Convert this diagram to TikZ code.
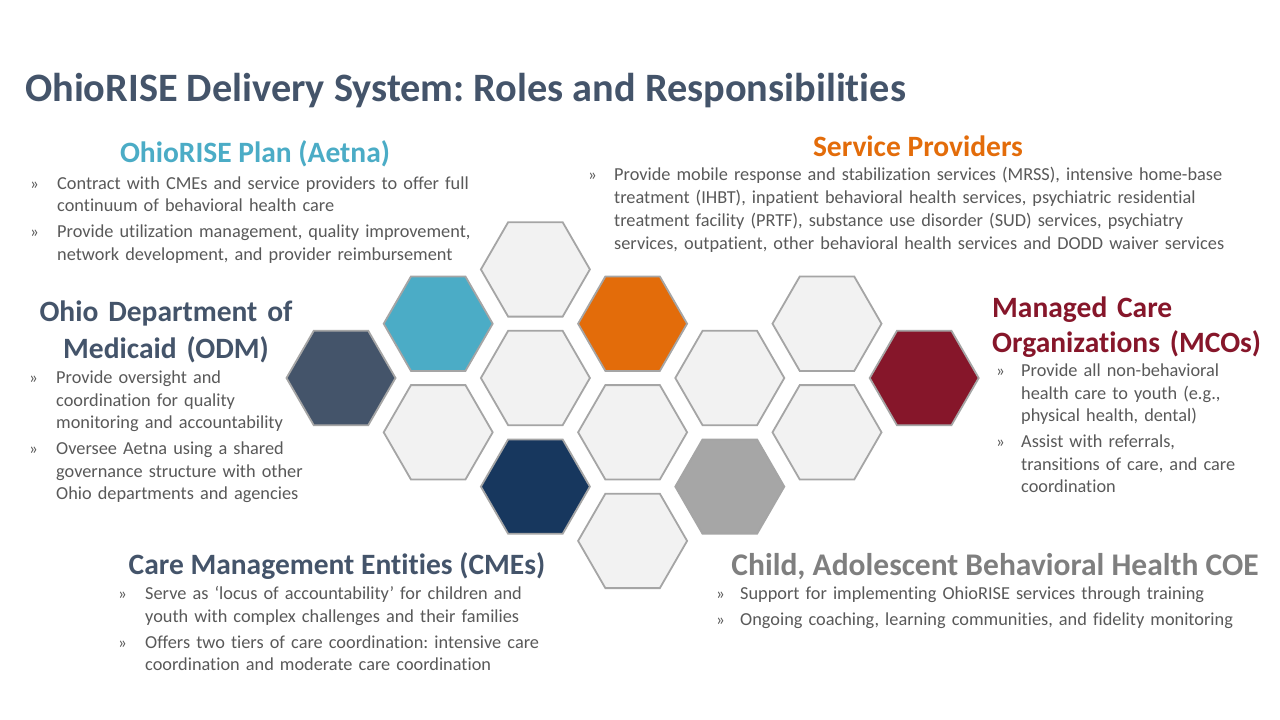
\documentclass[tikz,border=0pt]{standalone}
\usepackage{fontspec}
\setmainfont{Carlito}[Ligatures={TeX,NoCommon}]
\usetikzlibrary{shapes.geometric}
\frenchspacing
\definecolor{slate}{HTML}{44546A}
\definecolor{aetna}{HTML}{4BACC6}
\definecolor{provider}{HTML}{E36C0A}
\definecolor{mco}{HTML}{86162A}
\definecolor{cme}{HTML}{17375E}
\definecolor{coe}{HTML}{A6A6A6}
\definecolor{coetxt}{HTML}{7F7F7F}
\definecolor{cell}{HTML}{F2F2F2}
\definecolor{cellline}{HTML}{A5A5A5}
\definecolor{bodytxt}{HTML}{595959}
\newlength{\bulsep}
\setlength{\bulsep}{27pt}
\newcommand{\bul}{\noindent\hangindent=\bulsep\hangafter=1\makebox[\bulsep][l]{\fontsize{17}{17}\selectfont »}}
\newcommand{\gap}{\par\vspace{3.5pt}}
\tikzset{
  hexa/.style={regular polygon, regular polygon sides=6, minimum size=109pt, inner sep=0pt, draw=cellline, line width=1.8pt},
  head/.style={anchor=base, inner sep=0pt, font=\bfseries\fontsize{29.5}{37}\selectfont},
  body/.style={anchor=base west, inner sep=0pt, text width=#1, text=bodytxt, font=\fontsize{18.3}{22.5}\selectfont\frenchspacing}
}
\begin{document}
\begin{tikzpicture}[x=1pt,y=-1pt]
\useasboundingbox (0,0) rectangle (1280,720);
\fill[white] (0,0) rectangle (1280,720);
\foreach \c/\k/\col/\nm in {0/0/slate/odm, 1/-1/aetna/plan, 1/1/cell/h11, 2/-2/cell/h22, 2/0/cell/h20,
  2/2/cme/cmes, 3/-1/provider/prov, 3/1/cell/h31, 3/3/cell/h33, 4/0/cell/h40, 4/2/coe/coehex,
  5/-1/cell/h51, 5/1/cell/h52, 6/0/mco/mcos}
  \node[hexa, fill=\col] (\nm) at ({341+97.2*\c},{378+54.3*\k}) {};
\node[anchor=base west, inner sep=0pt, text=slate, font=\bfseries\fontsize{40.3}{46}\selectfont] (title) at (25,101) {OhioRISE Delivery System: Roles and Responsibilities};
\node[head, text=aetna] (planhead) at (255,162) {OhioRISE Plan (Aetna)};
\node[body=480pt] (plantxt) at (30,189) {\bul Contract with CMEs and service providers to offer full\newline continuum of behavioral health care\gap
  \bul Provide utilization management, quality improvement,\newline network development, and provider reimbursement\par};
\node[head, text=provider] (provhead) at (918,156.5) {Service Providers};
\node[body=680pt, font=\fontsize{18.3}{23.1}\selectfont\frenchspacing] (provtxt) at (588,180.5) {\setlength{\bulsep}{26pt}\bul Provide mobile response and stabilization services (MRSS), intensive home-base\newline treatment (IHBT), inpatient behavioral health services, psychiatric residential\newline treatment facility (PRTF), substance use disorder (SUD) services, psychiatry\newline services, outpatient, other behavioral health services and DODD waiver services\par};
\node[head, text=slate, text width=300pt, align=center] (odmhead) at (166,321.5) {Ohio Department of\\Medicaid (ODM)};
\node[body=320pt] (odmtxt) at (29,383.5) {\setlength{\bulsep}{27pt}\bul Provide oversight and\newline coordination for quality\newline monitoring and accountability\gap
  \bul Oversee Aetna using a shared\newline governance structure with other\newline Ohio departments and agencies\par};
\node[head, anchor=base west, text=mco, text width=290pt, align=left, font=\bfseries\fontsize{29.5}{35}\selectfont] (mcohead) at (992,317.5) {Managed Care\\Organizations (MCOs)};
\node[body=280pt] (mcotxt) at (996,376.5) {\setlength{\bulsep}{25pt}\bul Provide all non-behavioral\newline health care to youth (e.g.,\newline physical health, dental)\gap
  \bul Assist with referrals,\newline transitions of care, and care\newline coordination\par};
\node[head, text=slate] (cmehead) at (337,574.5) {Care Management Entities (CMEs)};
\node[body=480pt] (cmetxt) at (118,599.5) {\setlength{\bulsep}{27pt}\bul Serve as `locus of accountability' for children and\newline youth with complex challenges and their families\gap
  \bul Offers two tiers of care coordination: intensive care\newline coordination and moderate care coordination\par};
\node[head, text=coetxt, font=\bfseries\fontsize{31.5}{37}\selectfont] (coehead) at (995,575) {Child, Adolescent Behavioral Health COE};
\node[body=560pt] (coetxt) at (716,599.5) {\setlength{\bulsep}{24pt}\bul Support for implementing OhioRISE services through training\gap
  \bul Ongoing coaching, learning communities, and fidelity monitoring\par};
\end{tikzpicture}
\end{document}
